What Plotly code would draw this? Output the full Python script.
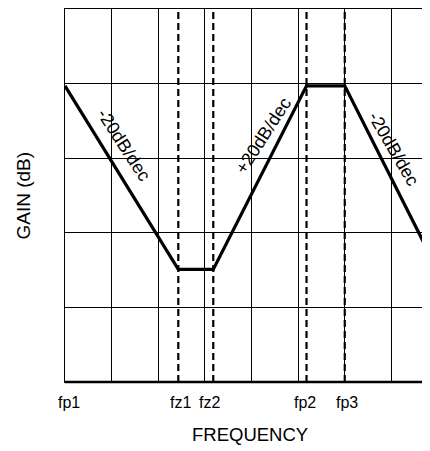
import plotly.graph_objects as go

# Frequency positions (in grid divisions, log-frequency scale) and gain (grid divisions)
curve_freq = [0.0, 2.43, 3.18, 5.18, 6.0, 7.83]
curve_gain = [3.97, 1.51, 1.51, 3.97, 3.97, 1.70]

break_labels = ["fp1", "fz1", "fz2", "fp2", "fp3"]
break_freqs = [0.0, 2.43, 3.18, 5.18, 6.0]
dashed_freqs = [2.43, 3.18, 5.18, 6.0]

slope_labels = ["-20dB/dec", "+20dB/dec", "-20dB/dec"]
slope_label_x = [1.265, 4.247, 7.056]
slope_label_y = [3.18, 3.30, 3.13]
slope_label_angle = [57, -57, 60]

FONT = "Liberation Sans, Arial, sans-serif"
label_xshift = [4, 2, -4, -2, 2]

fig = go.Figure()

for f in dashed_freqs:
    fig.add_trace(go.Scatter(
        x=[f, f], y=[0, 5], mode="lines",
        line=dict(color="black", width=2.2, dash="7px,4px"),
        hoverinfo="skip", showlegend=False))

fig.add_trace(go.Scatter(
    x=curve_freq, y=curve_gain, mode="lines",
    line=dict(color="black", width=3.2),
    showlegend=False))

annotations = []
for t, x, y, a in zip(slope_labels, slope_label_x, slope_label_y, slope_label_angle):
    annotations.append(dict(x=x, y=y, xref="x", yref="y", text=t, textangle=a,
                            showarrow=False, font=dict(family=FONT, size=18, color="black")))
for t, f, s in zip(break_labels, break_freqs, label_xshift):
    annotations.append(dict(x=f, y=-0.056, xref="x", yref="paper", text=t,
                            showarrow=False, xanchor="center", yanchor="middle",
                            xshift=s,
                            font=dict(family=FONT, size=16, color="black")))
annotations.append(dict(x=3.96, y=-0.1417, xref="x", yref="paper", text="FREQUENCY",
                        showarrow=False, xanchor="center", yanchor="middle",
                        font=dict(family=FONT, size=18.5, color="black")))
annotations.append(dict(x=-0.1126, y=0.5, xref="paper", yref="paper", text="GAIN (dB)",
                        textangle=-90, showarrow=False, xanchor="center", yanchor="middle",
                        font=dict(family=FONT, size=19, color="black")))

fig.update_layout(
    width=430, height=451,
    margin=dict(l=57, r=0, t=1, b=77),
    paper_bgcolor="white", plot_bgcolor="white",
    annotations=annotations,
    shapes=[dict(type="line", xref="paper", yref="paper", x0=0, x1=1, y0=0, y1=0,
                 line=dict(color="black", width=2.6), layer="above")],
    xaxis=dict(range=[0, 8], dtick=1, tick0=0, showgrid=True, gridcolor="black",
               gridwidth=1, zeroline=False, showline=True, mirror=True, linecolor="black",
               linewidth=1.2, showticklabels=False, ticks="", fixedrange=True),
    yaxis=dict(range=[0, 5], dtick=1, tick0=0, showgrid=True, gridcolor="black",
               gridwidth=1, zeroline=False, showline=True, linecolor="black",
               linewidth=1.2, showticklabels=False, ticks="", fixedrange=True),
)

fig.write_html("out.html")
